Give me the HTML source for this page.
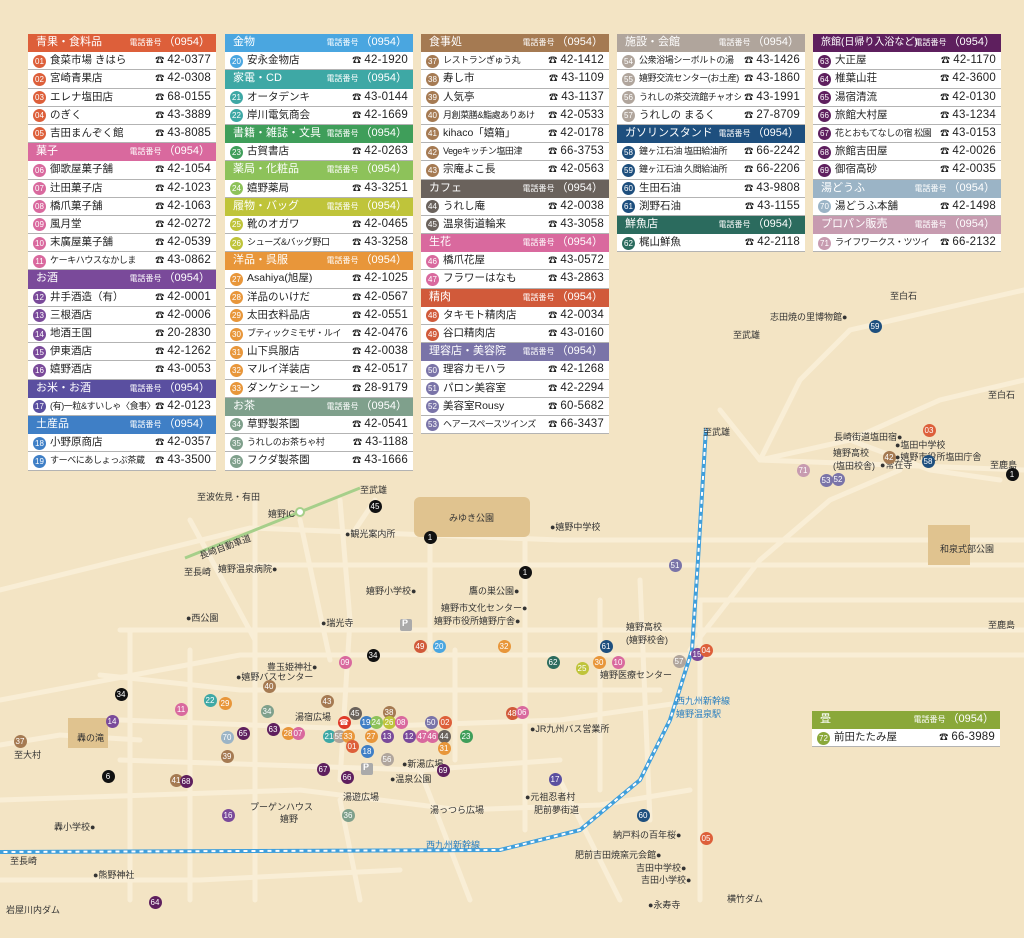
<!DOCTYPE html>
<html><head><meta charset="utf-8"><style>
*{margin:0;padding:0}
body{width:1024px;height:938px;overflow:hidden;background:#f3e4c4;font-family:"Liberation Sans","Noto Sans CJK JP",sans-serif;position:relative}
.col{position:absolute;top:34px;width:188px;background:#fff}
.h,.r{height:18.2px;box-sizing:border-box;position:relative;font-size:11px;line-height:17px;white-space:nowrap;overflow:hidden}
.h{color:#fff;padding-left:8px}
.h i{font-style:normal;position:absolute;right:6px;top:0;font-size:11px}
.h i b{font-weight:normal;font-size:8px;margin-right:2px}
.r{border-bottom:1px solid #b3b3b3;color:#222;padding-left:22px;font-size:10.5px}
.r.n{font-size:9px;letter-spacing:-0.4px}
.r u{text-decoration:none;position:absolute;left:5px;top:2.5px;width:13px;height:13px;border-radius:50%;color:#fff;font-size:8px;line-height:13px;text-align:center;letter-spacing:0}
.r s{text-decoration:none;position:absolute;right:0;top:0;padding:0 5px 0 3px;background:#fff;font-size:11.5px;letter-spacing:.2px}
.r s::before{content:"\260E";font-size:9px;margin-right:3px}
.map{position:absolute;left:0;top:0}
.m{position:absolute;width:13px;height:13px;border-radius:50%;color:#fff;font-size:8px;line-height:13px;text-align:center;margin:-6.5px 0 0 -6.5px;font-family:"Liberation Sans",sans-serif}
.t{position:absolute;font-size:9px;color:#333;white-space:nowrap}
</style></head><body>
<svg class="map" width="1024" height="938">
<g stroke="#f9eed6" stroke-width="5" fill="none" stroke-linecap="round">
<path d="M0 590 L250 528 L560 540 L1024 540"/>
<path d="M240 565 L1024 565"/>
<path d="M0 700 L240 655 L1024 655"/>
<path d="M120 630 L1024 630"/>
<path d="M100 675 L240 690 L660 690"/>
<path d="M120 720 L330 728 L560 720 L700 700"/>
<path d="M120 760 L420 770 L560 760"/>
<path d="M0 745 L60 735 L140 740"/>
<path d="M0 800 L300 790 L460 810 L600 805 L690 790"/>
<path d="M255 500 L255 900"/>
<path d="M190 520 L255 640"/>
<path d="M300 520 L330 660"/>
<path d="M340 500 L350 620 L340 780"/>
<path d="M375 500 L355 530"/>
<path d="M430 540 L430 650"/>
<path d="M525 540 L525 830"/>
<path d="M600 600 L600 790"/>
<path d="M640 580 L650 820"/>
<path d="M700 600 L700 900"/>
<path d="M130 630 L130 900"/>
<path d="M190 650 L190 900"/>
<path d="M455 650 L455 760"/>
<path d="M340 800 L360 900"/>
<path d="M420 770 L470 900"/>
<path d="M560 780 L620 900"/>
<path d="M720 410 L760 460 L1024 470"/>
<path d="M760 460 L800 380 L850 330 L980 300 L1024 290"/>
<path d="M760 460 L850 440 L940 400 L1024 380"/>
<path d="M850 440 L930 470 L1000 480"/>
<path d="M690 650 L760 560 L830 500 L900 470"/>
<path d="M700 600 L830 600 L1024 600"/>
<path d="M0 880 L200 880 L400 870"/>
</g>
<rect x="414" y="497" width="116" height="40" rx="6" fill="#e0c38f"/>
<rect x="928" y="525" width="42" height="40" fill="#e0c38f"/>
<rect x="68" y="718" width="40" height="30" fill="#e0c38f"/>
<path d="M185 558 L360 488" stroke="#a6cf8a" stroke-width="3" fill="none"/>
<circle cx="300" cy="512" r="4" fill="#fff" stroke="#a6cf8a" stroke-width="2"/>
<path d="M706 428 L698 560 L692 650 L670 720 L640 780 L580 830 L500 850 L0 852" stroke="#3f9fdc" stroke-width="4" fill="none"/>
<path d="M706 428 L698 560 L692 650 L670 720 L640 780 L580 830 L500 850 L0 852" stroke="#fff" stroke-width="2" stroke-dasharray="4 4" fill="none"/>
<rect x="806" y="710" width="192" height="38" fill="#f3e4c4"/>
<rect x="400" y="619" width="12" height="12" rx="2" fill="#aaa"/>
<rect x="361" y="763" width="12" height="12" rx="2" fill="#aaa"/>
</svg>
<div class="t" style="left:402px;top:618px;color:#fff;font-weight:bold">P</div>
<div class="t" style="left:363px;top:762px;color:#fff;font-weight:bold">P</div>
<div class="t" style="left:449px;top:511px">みゆき公園</div>
<div class="t" style="left:940px;top:542px">和泉式部公園</div>
<div class="t" style="left:77px;top:731px">轟の滝</div>
<div class="t" style="left:197px;top:490px">至波佐見・有田</div>
<div class="t" style="left:360px;top:483px">至武雄</div>
<div class="t" style="left:268px;top:507px">嬉野IC</div>
<div class="t" style="left:198px;top:540px;transform:rotate(-20deg)">長崎自動車道</div>
<div class="t" style="left:184px;top:565px">至長崎</div>
<div class="t" style="left:218px;top:562px">嬉野温泉病院●</div>
<div class="t" style="left:345px;top:527px">●観光案内所</div>
<div class="t" style="left:550px;top:520px">●嬉野中学校</div>
<div class="t" style="left:366px;top:584px">嬉野小学校●</div>
<div class="t" style="left:469px;top:584px">鷹の巣公園●</div>
<div class="t" style="left:441px;top:601px">嬉野市文化センター●</div>
<div class="t" style="left:434px;top:614px">嬉野市役所嬉野庁舎●</div>
<div class="t" style="left:186px;top:611px">●西公園</div>
<div class="t" style="left:321px;top:616px">●瑞光寺</div>
<div class="t" style="left:267px;top:660px">豊玉姫神社●</div>
<div class="t" style="left:236px;top:670px">●嬉野バスセンター</div>
<div class="t" style="left:295px;top:710px">湯宿広場</div>
<div class="t" style="left:402px;top:757px">●新湯広場</div>
<div class="t" style="left:390px;top:772px">●温泉公園</div>
<div class="t" style="left:343px;top:790px">湯遊広場</div>
<div class="t" style="left:430px;top:803px">湯っつら広場</div>
<div class="t" style="left:250px;top:800px">プーゲンハウス</div>
<div class="t" style="left:280px;top:812px">嬉野</div>
<div class="t" style="left:530px;top:722px">●JR九州バス営業所</div>
<div class="t" style="left:525px;top:790px">●元祖忍者村<br>　肥前夢街道</div>
<div class="t" style="left:54px;top:820px">轟小学校●</div>
<div class="t" style="left:10px;top:854px">至長崎</div>
<div class="t" style="left:93px;top:868px">●熊野神社</div>
<div class="t" style="left:6px;top:903px">岩屋川内ダム</div>
<div class="t" style="left:14px;top:748px">至大村</div>
<div class="t" style="left:426px;top:838px;color:#2a7fc0">西九州新幹線</div>
<div class="t" style="left:626px;top:620px">嬉野高校<br>(嬉野校舎)</div>
<div class="t" style="left:600px;top:668px">嬉野医療センター</div>
<div class="t" style="left:676px;top:694px;color:#2a7fc0">西九州新幹線<br>嬉野温泉駅</div>
<div class="t" style="left:703px;top:425px">至武雄</div>
<div class="t" style="left:613px;top:828px">納戸料の百年桜●</div>
<div class="t" style="left:575px;top:848px">肥前吉田焼窯元会館●</div>
<div class="t" style="left:636px;top:861px">吉田中学校●</div>
<div class="t" style="left:641px;top:873px">吉田小学校●</div>
<div class="t" style="left:648px;top:898px">●永寿寺</div>
<div class="t" style="left:727px;top:892px">横竹ダム</div>
<div class="t" style="left:890px;top:289px">至白石</div>
<div class="t" style="left:770px;top:310px">志田焼の里博物館●</div>
<div class="t" style="left:733px;top:328px">至武雄</div>
<div class="t" style="left:988px;top:388px">至白石</div>
<div class="t" style="left:834px;top:430px">長崎街道塩田宿●</div>
<div class="t" style="left:895px;top:438px">●塩田中学校</div>
<div class="t" style="left:833px;top:446px">嬉野高校<br>(塩田校舎)</div>
<div class="t" style="left:895px;top:450px">●嬉野市役所塩田庁舎</div>
<div class="t" style="left:880px;top:458px">●常在寺</div>
<div class="t" style="left:990px;top:458px">至鹿島</div>
<div class="t" style="left:988px;top:618px">至鹿島</div>

<div class="col" style="left:28px">
<div class="h" style="background:#dd5f3a">青果・食料品<i><b>電話番号</b>（0954）</i></div>
<div class="r"><u style="background:#dd5f3a">01</u>食菜市場 きはら<s>42-0377</s></div>
<div class="r"><u style="background:#dd5f3a">02</u>宮崎青果店<s>42-0308</s></div>
<div class="r"><u style="background:#dd5f3a">03</u>エレナ塩田店<s>68-0155</s></div>
<div class="r"><u style="background:#dd5f3a">04</u>のぎく<s>43-3889</s></div>
<div class="r"><u style="background:#dd5f3a">05</u>吉田まんぞく館<s>43-8085</s></div>
<div class="h" style="background:#d9699e">菓子<i><b>電話番号</b>（0954）</i></div>
<div class="r"><u style="background:#d9699e">06</u>御歌屋菓子舗<s>42-1054</s></div>
<div class="r"><u style="background:#d9699e">07</u>辻田菓子店<s>42-1023</s></div>
<div class="r"><u style="background:#d9699e">08</u>橋爪菓子舗<s>42-1063</s></div>
<div class="r"><u style="background:#d9699e">09</u>風月堂<s>42-0272</s></div>
<div class="r"><u style="background:#d9699e">10</u>末廣屋菓子舗<s>42-0539</s></div>
<div class="r n"><u style="background:#d9699e">11</u>ケーキハウスなかしま<s>43-0862</s></div>
<div class="h" style="background:#7a4a9a">お酒<i><b>電話番号</b>（0954）</i></div>
<div class="r"><u style="background:#7a4a9a">12</u>井手酒造（有）<s>42-0001</s></div>
<div class="r"><u style="background:#7a4a9a">13</u>三根酒店<s>42-0006</s></div>
<div class="r"><u style="background:#7a4a9a">14</u>地酒王国<s>20-2830</s></div>
<div class="r"><u style="background:#7a4a9a">15</u>伊東酒店<s>42-1262</s></div>
<div class="r"><u style="background:#7a4a9a">16</u>嬉野酒店<s>43-0053</s></div>
<div class="h" style="background:#5a4fa0">お米・お酒<i><b>電話番号</b>（0954）</i></div>
<div class="r n"><u style="background:#5a4fa0">17</u>(有)一粒&amp;すいしゃ〈食事〉<s>42-0123</s></div>
<div class="h" style="background:#3f7fc6">土産品<i><b>電話番号</b>（0954）</i></div>
<div class="r"><u style="background:#3f7fc6">18</u>小野原商店<s>42-0357</s></div>
<div class="r n"><u style="background:#3f7fc6">19</u>すーべにあしょっぷ茶蔵<s>43-3500</s></div>
</div>

<div class="col" style="left:225px">
<div class="h" style="background:#4aa6e0">金物<i><b>電話番号</b>（0954）</i></div>
<div class="r"><u style="background:#4aa6e0">20</u>安永金物店<s>42-1920</s></div>
<div class="h" style="background:#3ea8a5">家電・CD<i><b>電話番号</b>（0954）</i></div>
<div class="r"><u style="background:#3ea8a5">21</u>オータデンキ<s>43-0144</s></div>
<div class="r"><u style="background:#3ea8a5">22</u>岸川電気商会<s>42-1669</s></div>
<div class="h" style="background:#3f9e5a">書籍・雑誌・文具<i><b>電話番号</b>（0954）</i></div>
<div class="r"><u style="background:#3f9e5a">23</u>古賀書店<s>42-0263</s></div>
<div class="h" style="background:#8dc25a">薬局・化粧品<i><b>電話番号</b>（0954）</i></div>
<div class="r"><u style="background:#8dc25a">24</u>嬉野薬局<s>43-3251</s></div>
<div class="h" style="background:#bfc43a">履物・バッグ<i><b>電話番号</b>（0954）</i></div>
<div class="r"><u style="background:#bfc43a">25</u>靴のオガワ<s>42-0465</s></div>
<div class="r n"><u style="background:#bfc43a">26</u>シューズ&amp;バッグ野口<s>43-3258</s></div>
<div class="h" style="background:#e8963a">洋品・呉服<i><b>電話番号</b>（0954）</i></div>
<div class="r"><u style="background:#e8963a">27</u>Asahiya(旭屋)<s>42-1025</s></div>
<div class="r"><u style="background:#e8963a">28</u>洋品のいけだ<s>42-0567</s></div>
<div class="r"><u style="background:#e8963a">29</u>太田衣料品店<s>42-0551</s></div>
<div class="r n"><u style="background:#e8963a">30</u>ブティックミモザ・ルイ<s>42-0476</s></div>
<div class="r"><u style="background:#e8963a">31</u>山下呉服店<s>42-0038</s></div>
<div class="r"><u style="background:#e8963a">32</u>マルイ洋装店<s>42-0517</s></div>
<div class="r"><u style="background:#e8963a">33</u>ダンケシェーン<s>28-9179</s></div>
<div class="h" style="background:#7fa08c">お茶<i><b>電話番号</b>（0954）</i></div>
<div class="r"><u style="background:#7fa08c">34</u>草野製茶園<s>42-0541</s></div>
<div class="r n"><u style="background:#7fa08c">35</u>うれしのお茶ちゃ村<s>43-1188</s></div>
<div class="r"><u style="background:#7fa08c">36</u>フクダ製茶園<s>43-1666</s></div>
</div>

<div class="col" style="left:421px">
<div class="h" style="background:#a57a52">食事処<i><b>電話番号</b>（0954）</i></div>
<div class="r n"><u style="background:#a57a52">37</u>レストランぎゅう丸<s>42-1412</s></div>
<div class="r"><u style="background:#a57a52">38</u>寿し市<s>43-1109</s></div>
<div class="r"><u style="background:#a57a52">39</u>人気亭<s>43-1137</s></div>
<div class="r n"><u style="background:#a57a52">40</u>月創菜膳&amp;鮨處ありあけ<s>42-0533</s></div>
<div class="r"><u style="background:#a57a52">41</u>kihaco「嬉箱」<s>42-0178</s></div>
<div class="r n"><u style="background:#a57a52">42</u>Vegeキッチン塩田津<s>66-3753</s></div>
<div class="r"><u style="background:#a57a52">43</u>宗庵よこ長<s>42-0563</s></div>
<div class="h" style="background:#6a625c">カフェ<i><b>電話番号</b>（0954）</i></div>
<div class="r"><u style="background:#6a625c">44</u>うれし庵<s>42-0038</s></div>
<div class="r"><u style="background:#6a625c">45</u>温泉街道輪来<s>43-3058</s></div>
<div class="h" style="background:#d9699e">生花<i><b>電話番号</b>（0954）</i></div>
<div class="r"><u style="background:#d9699e">46</u>橋爪花屋<s>43-0572</s></div>
<div class="r"><u style="background:#d9699e">47</u>フラワーはなも<s>43-2863</s></div>
<div class="h" style="background:#d15a3a">精肉<i><b>電話番号</b>（0954）</i></div>
<div class="r"><u style="background:#d15a3a">48</u>タキモト精肉店<s>42-0034</s></div>
<div class="r"><u style="background:#d15a3a">49</u>谷口精肉店<s>43-0160</s></div>
<div class="h" style="background:#7a74a8">理容店・美容院<i><b>電話番号</b>（0954）</i></div>
<div class="r"><u style="background:#7a74a8">50</u>理容カモハラ<s>42-1268</s></div>
<div class="r"><u style="background:#7a74a8">51</u>パロン美容室<s>42-2294</s></div>
<div class="r"><u style="background:#7a74a8">52</u>美容室Rousy<s>60-5682</s></div>
<div class="r n"><u style="background:#7a74a8">53</u>ヘアースペースツインズ<s>66-3437</s></div>
</div>

<div class="col" style="left:617px">
<div class="h" style="background:#b0a59c">施設・会館<i><b>電話番号</b>（0954）</i></div>
<div class="r n"><u style="background:#b0a59c">54</u>公衆浴場シーボルトの湯<s>43-1426</s></div>
<div class="r n"><u style="background:#b0a59c">55</u>嬉野交流センター(お土産)<s>43-1860</s></div>
<div class="r n"><u style="background:#b0a59c">56</u>うれしの茶交流館チャオシル<s>43-1991</s></div>
<div class="r"><u style="background:#b0a59c">57</u>うれしの まるく<s>27-8709</s></div>
<div class="h" style="background:#1e4f7e">ガソリンスタンド<i><b>電話番号</b>（0954）</i></div>
<div class="r n"><u style="background:#1e4f7e">58</u>鐘ヶ江石油 塩田給油所<s>66-2242</s></div>
<div class="r n"><u style="background:#1e4f7e">59</u>鐘ヶ江石油 久間給油所<s>66-2206</s></div>
<div class="r"><u style="background:#1e4f7e">60</u>生田石油<s>43-9808</s></div>
<div class="r"><u style="background:#1e4f7e">61</u>渕野石油<s>43-1155</s></div>
<div class="h" style="background:#2b6b5e">鮮魚店<i><b>電話番号</b>（0954）</i></div>
<div class="r"><u style="background:#2b6b5e">62</u>梶山鮮魚<s>42-2118</s></div>
</div>

<div class="col" style="left:813px">
<div class="h" style="background:#5e1f5e;font-size:10px">旅館(日帰り入浴など)<i><b>電話番号</b>（0954）</i></div>
<div class="r"><u style="background:#5e1f5e">63</u>大正屋<s>42-1170</s></div>
<div class="r"><u style="background:#5e1f5e">64</u>椎葉山荘<s>42-3600</s></div>
<div class="r"><u style="background:#5e1f5e">65</u>湯宿清流<s>42-0130</s></div>
<div class="r"><u style="background:#5e1f5e">66</u>旅館大村屋<s>43-1234</s></div>
<div class="r n"><u style="background:#5e1f5e">67</u>花とおもてなしの宿 松園<s>43-0153</s></div>
<div class="r"><u style="background:#5e1f5e">68</u>旅館吉田屋<s>42-0026</s></div>
<div class="r"><u style="background:#5e1f5e">69</u>御宿高砂<s>42-0035</s></div>
<div class="h" style="background:#9bb4c6">湯どうふ<i><b>電話番号</b>（0954）</i></div>
<div class="r"><u style="background:#9bb4c6">70</u>湯どうふ本舗<s>42-1498</s></div>
<div class="h" style="background:#c79bb0">プロパン販売<i><b>電話番号</b>（0954）</i></div>
<div class="r n"><u style="background:#c79bb0">71</u>ライフワークス・ツツイ<s>66-2132</s></div>
</div>

<div class="col" style="left:812px;top:711px">
<div class="h" style="background:#8aa83a">畳<i><b>電話番号</b>（0954）</i></div>
<div class="r"><u style="background:#8aa83a">72</u>前田たたみ屋<s>66-3989</s></div>
</div>

<div class="m" style="left:420px;top:646px;background:#d15a3a">49</div>
<div class="m" style="left:439px;top:646px;background:#4aa6e0">20</div>
<div class="m" style="left:504px;top:646px;background:#e8963a">32</div>
<div class="m" style="left:606px;top:646px;background:#1e4f7e">61</div>
<div class="m" style="left:553px;top:662px;background:#2b6b5e">62</div>
<div class="m" style="left:582px;top:668px;background:#bfc43a">25</div>
<div class="m" style="left:599px;top:662px;background:#e8963a">30</div>
<div class="m" style="left:618px;top:662px;background:#d9699e">10</div>
<div class="m" style="left:345px;top:662px;background:#d9699e">09</div>
<div class="m" style="left:269px;top:686px;background:#a57a52">40</div>
<div class="m" style="left:327px;top:701px;background:#a57a52">43</div>
<div class="m" style="left:355px;top:713px;background:#6a625c">45</div>
<div class="m" style="left:389px;top:712px;background:#a57a52">38</div>
<div class="m" style="left:210px;top:700px;background:#3ea8a5">22</div>
<div class="m" style="left:225px;top:703px;background:#e8963a">29</div>
<div class="m" style="left:181px;top:709px;background:#d9699e">11</div>
<div class="m" style="left:267px;top:711px;background:#7fa08c">34</div>
<div class="m" style="left:243px;top:733px;background:#5e1f5e">65</div>
<div class="m" style="left:273px;top:729px;background:#5e1f5e">63</div>
<div class="m" style="left:288px;top:733px;background:#e8963a">28</div>
<div class="m" style="left:298px;top:733px;background:#d9699e">07</div>
<div class="m" style="left:227px;top:737px;background:#9bb4c6">70</div>
<div class="m" style="left:227px;top:756px;background:#a57a52">39</div>
<div class="m" style="left:344px;top:722px;background:#e03a2a">☎</div>
<div class="m" style="left:366px;top:722px;background:#3f7fc6">19</div>
<div class="m" style="left:376px;top:722px;background:#8dc25a">24</div>
<div class="m" style="left:389px;top:722px;background:#bfc43a">26</div>
<div class="m" style="left:401px;top:722px;background:#d9699e">08</div>
<div class="m" style="left:431px;top:722px;background:#7a74a8">50</div>
<div class="m" style="left:445px;top:722px;background:#dd5f3a">02</div>
<div class="m" style="left:329px;top:736px;background:#3ea8a5">21</div>
<div class="m" style="left:339px;top:736px;background:#b0a59c">55</div>
<div class="m" style="left:348px;top:736px;background:#e8963a">33</div>
<div class="m" style="left:371px;top:736px;background:#e8963a">27</div>
<div class="m" style="left:387px;top:736px;background:#7a4a9a">13</div>
<div class="m" style="left:409px;top:736px;background:#7a4a9a">12</div>
<div class="m" style="left:422px;top:736px;background:#d9699e">47</div>
<div class="m" style="left:432px;top:736px;background:#d9699e">46</div>
<div class="m" style="left:444px;top:736px;background:#6a625c">44</div>
<div class="m" style="left:466px;top:736px;background:#3f9e5a">23</div>
<div class="m" style="left:444px;top:748px;background:#e8963a">31</div>
<div class="m" style="left:352px;top:746px;background:#dd5f3a">01</div>
<div class="m" style="left:367px;top:751px;background:#3f7fc6">18</div>
<div class="m" style="left:387px;top:759px;background:#b0a59c">56</div>
<div class="m" style="left:323px;top:769px;background:#5e1f5e">67</div>
<div class="m" style="left:347px;top:777px;background:#5e1f5e">66</div>
<div class="m" style="left:443px;top:770px;background:#5e1f5e">69</div>
<div class="m" style="left:176px;top:780px;background:#a57a52">41</div>
<div class="m" style="left:186px;top:781px;background:#5e1f5e">68</div>
<div class="m" style="left:512px;top:713px;background:#d15a3a">48</div>
<div class="m" style="left:522px;top:712px;background:#d9699e">06</div>
<div class="m" style="left:555px;top:779px;background:#5a4fa0">17</div>
<div class="m" style="left:112px;top:721px;background:#7a4a9a">14</div>
<div class="m" style="left:20px;top:741px;background:#a57a52">37</div>
<div class="m" style="left:889px;top:457px;background:#a57a52">42</div>
<div class="m" style="left:929px;top:430px;background:#dd5f3a">03</div>
<div class="m" style="left:928px;top:461px;background:#1e4f7e">58</div>
<div class="m" style="left:875px;top:326px;background:#1e4f7e">59</div>
<div class="m" style="left:838px;top:479px;background:#7a74a8">52</div>
<div class="m" style="left:826px;top:480px;background:#7a74a8">53</div>
<div class="m" style="left:803px;top:470px;background:#c79bb0">71</div>
<div class="m" style="left:679px;top:661px;background:#b0a59c">57</div>
<div class="m" style="left:697px;top:654px;background:#7a4a9a">15</div>
<div class="m" style="left:706px;top:650px;background:#dd5f3a">04</div>
<div class="m" style="left:675px;top:565px;background:#7a74a8">51</div>
<div class="m" style="left:643px;top:815px;background:#1e4f7e">60</div>
<div class="m" style="left:706px;top:838px;background:#dd5f3a">05</div>
<div class="m" style="left:228px;top:815px;background:#7a4a9a">16</div>
<div class="m" style="left:348px;top:815px;background:#7fa08c">36</div>
<div class="m" style="left:155px;top:902px;background:#5e1f5e">64</div>
<div class="m" style="left:430px;top:537px;background:#111">1</div>
<div class="m" style="left:525px;top:572px;background:#111">1</div>
<div class="m" style="left:375px;top:506px;background:#111">45</div>
<div class="m" style="left:373px;top:655px;background:#111">34</div>
<div class="m" style="left:121px;top:694px;background:#111">34</div>
<div class="m" style="left:108px;top:776px;background:#111">6</div>
<div class="m" style="left:1012px;top:474px;background:#111">1</div>
</body></html>
